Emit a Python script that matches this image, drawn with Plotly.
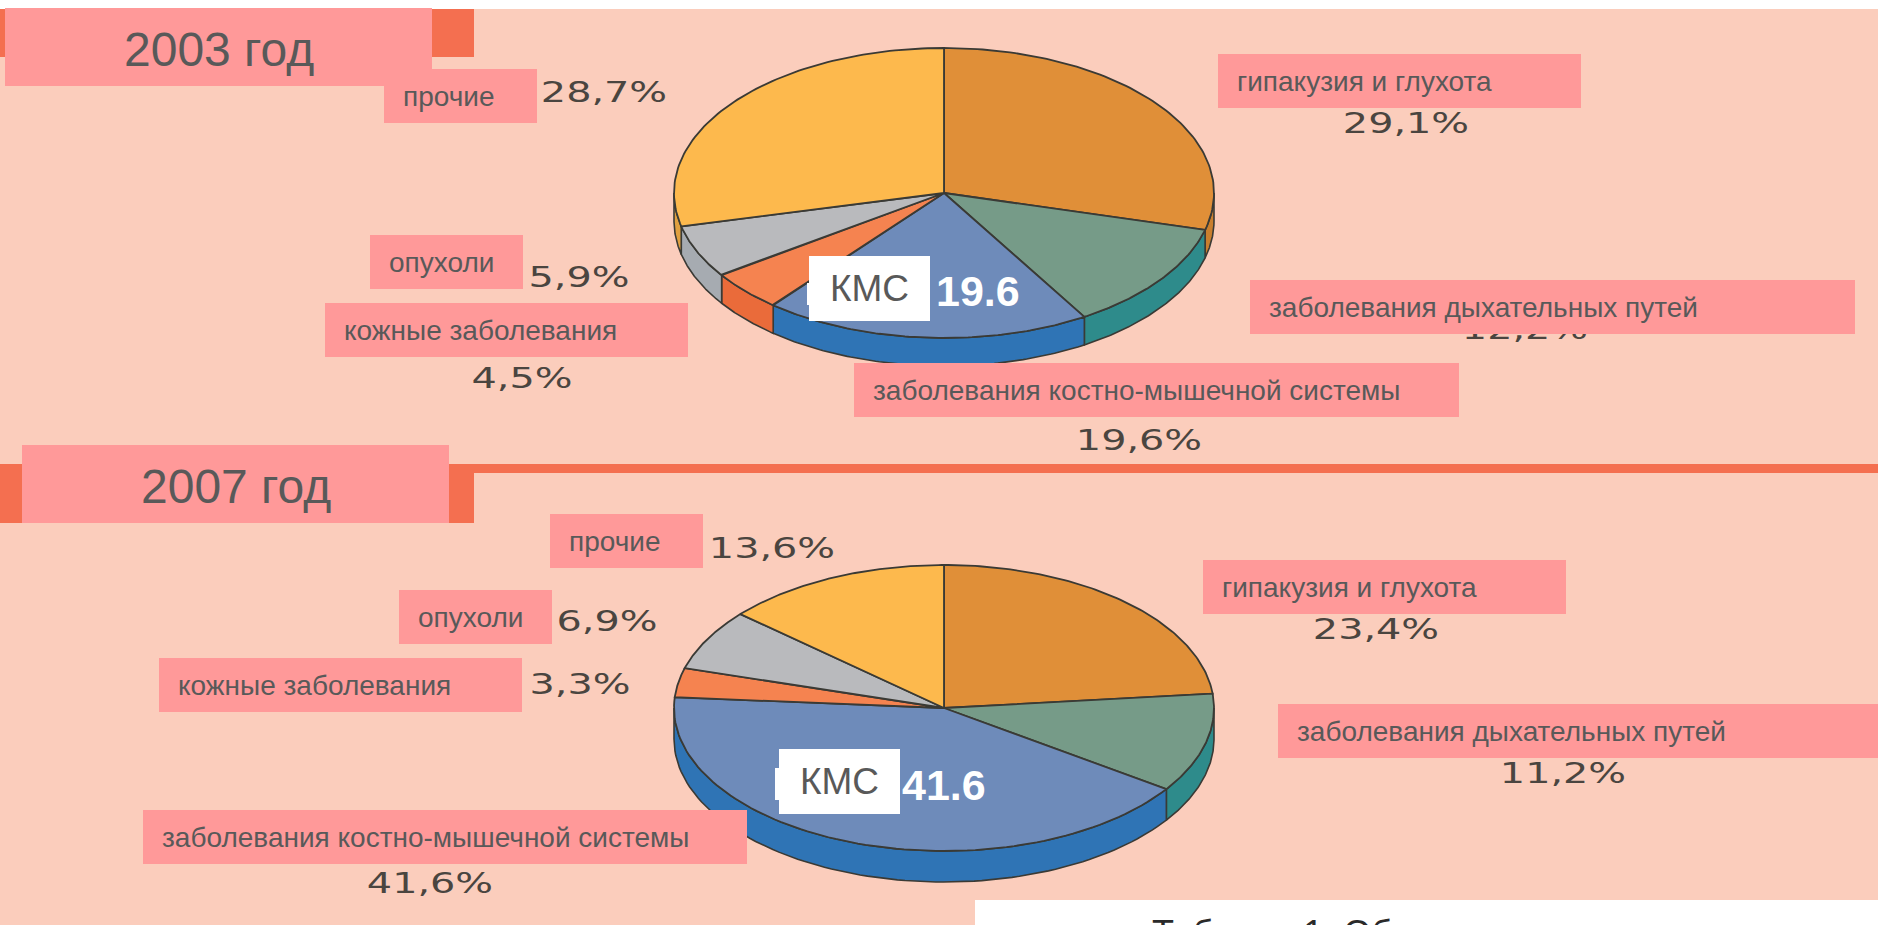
import numpy as np
import plotly.graph_objects as go

W, H = 1878, 925

# ---- data ----
categories = ["гипакузия и глухота", "заболевания дыхательных путей",
              "заболевания костно-мышечной системы", "кожные заболевания",
              "опухоли", "прочие"]
values_2003 = [29.1, 12.2, 19.6, 4.5, 5.9, 28.7]
values_2007 = [23.4, 11.2, 41.6, 3.3, 6.9, 13.6]
years = ["2003 год", "2007 год"]
center_label = "КМС"
table_caption = "Таблица 1. Об"

# ---- styles ----
top_colors = ["#E08F38", "#769B88", "#6E8BBA", "#F58350", "#B9BABD", "#FDB94D"]
side_colors = ["#C97F2E", "#2E8B8B", "#2F74B5", "#EA6B3A", "#A6ABB1", "#E0A040"]
EDGE = "#3A3A35"
BG = "#FBCDBC"
BAND = "#F46F50"
PINK = "#FF9999"
TXT = "#595959"
PCT = "#4A4540"
FONT = "Liberation Sans"

pies = [
    dict(values=values_2003, cx=944, cy=193, rx=270, ry=145, depth=28,
         big=(934, 291), year=0,
         pct=[(1406, 126), (1525, 332), (1139, 443), (522, 381), (579, 280), (604, 95)],
         boxes=[(1218, 54, 1581, 108), (1250, 280, 1855, 334), (854, 363, 1459, 417),
                (325, 303, 688, 357), (370, 235, 523, 289), (384, 69, 537, 123)],
         yearbox=(5, 8, 432, 86), kms=(809, 256, 930, 321), sliver=(807, 283, 809, 305)),
    dict(values=values_2007, cx=944, cy=708, rx=270, ry=143, depth=31,
         big=(900, 785), year=1,
         pct=[(1376, 632), (1563, 776), (430, 886), (580, 687), (607, 624), (772, 551)],
         boxes=[(1203, 560, 1566, 614), (1278, 704, 1883, 758), (143, 810, 747, 864),
                (159, 658, 522, 712), (399, 590, 552, 644), (550, 514, 703, 568)],
         yearbox=(22, 445, 449, 523), kms=(779, 749, 900, 814), sliver=(775, 768, 779, 800)),
]

fig = go.Figure()


def arc(t0, t1, n=90):
    return np.radians(np.linspace(t0, t1, n))


# Slices: angles run clockwise from 12 o'clock, squashed to an ellipse
for p in pies:
    edges = np.concatenate([[0], np.cumsum(p["values"])]) / sum(p["values"]) * 360
    # side walls first
    for i in range(len(p["values"])):
        a, b = max(edges[i], 90), min(edges[i + 1], 270)
        if b <= a:
            continue
        t = arc(a, b)
        x = p["cx"] + p["rx"] * np.sin(t)
        y = p["cy"] - p["ry"] * np.cos(t)
        fig.add_trace(go.Scatter(
            x=np.concatenate([x, x[::-1], x[:1]]),
            y=np.concatenate([y, y[::-1] + p["depth"], y[:1]]),
            mode="lines", fill="toself", fillcolor=side_colors[i],
            line=dict(color=EDGE, width=1.6), hoverinfo="skip", showlegend=False))
    # top faces
    for i in range(len(p["values"])):
        t = arc(edges[i], edges[i + 1])
        x = p["cx"] + p["rx"] * np.sin(t)
        y = p["cy"] - p["ry"] * np.cos(t)
        fig.add_trace(go.Scatter(
            x=np.concatenate([[p["cx"]], x, [p["cx"]]]),
            y=np.concatenate([[p["cy"]], y, [p["cy"]]]),
            mode="lines", fill="toself", fillcolor=top_colors[i],
            line=dict(color=EDGE, width=1.8), name=categories[i],
            hoverinfo="name", showlegend=False))
    # percentage labels sit below the pink boxes, which may hide them
    fig.add_trace(go.Scatter(
        x=[c[0] for c in p["pct"]], y=[c[1] for c in p["pct"]], mode="text",
        text=[f"{v:.1f}".replace(".", ",") + "%" for v in p["values"]],
        textfont=dict(family="DejaVu Sans", size=28, color=PCT),
        textposition="middle center", hoverinfo="skip", showlegend=False))

shapes = []


def rect(box, color, layer="above"):
    shapes.append(dict(type="rect", xref="x", yref="y", x0=box[0], y0=box[1],
                       x1=box[2], y1=box[3], fillcolor=color,
                       line=dict(width=0), layer=layer))


# background, bands
rect((0, 9, W, H), BG, "below")
rect((0, 9, 474, 57), BAND, "below")
rect((0, 464, 474, 523), BAND, "below")
rect((474, 464, W, 473), BAND, "below")

annotations = []


def text(x, y, s, size, color=TXT, anchor="left", bold=False):
    annotations.append(dict(x=x, y=y, xref="x", yref="y", text=f"<b>{s}</b>" if bold else s,
                            showarrow=False, xanchor=anchor, yanchor="middle",
                            font=dict(family=FONT, size=size, color=color)))


for p in pies:
    bx = p["yearbox"]
    rect(bx, PINK)
    text((bx[0] + bx[2]) / 2, (bx[1] + bx[3]) / 2 + 2, years[p["year"]], 48, anchor="center")
    for cat, b in zip(categories, p["boxes"]):
        rect(b, PINK)
        text(b[0] + 17, (b[1] + b[3]) / 2, cat, 28)
    text(p["big"][0], p["big"][1], f"{p['values'][2]:.1f}", 43, color="white", anchor="left", bold=True)
    rect(p["sliver"], "white")
    k = p["kms"]
    rect(k, "white")
    text((k[0] + k[2]) / 2, (k[1] + k[3]) / 2, center_label, 37, anchor="center")

rect((975, 900, W, H), "white")
# caption runs off the page bottom, so it hangs from the paper edge
annotations.append(dict(x=1150, y=0, xref="x", yref="paper", text=table_caption,
                        showarrow=False, xanchor="left", yanchor="top", yshift=14,
                        font=dict(family=FONT, size=36, color="#2A2A2A")))

fig.update_layout(
    width=W, height=H, margin=dict(l=0, r=0, t=0, b=0),
    paper_bgcolor="white", plot_bgcolor="white", showlegend=False,
    xaxis=dict(range=[0, W], visible=False, fixedrange=True),
    yaxis=dict(range=[H, 0], visible=False, fixedrange=True),
    shapes=shapes, annotations=annotations,
)

post = """
document.body.style.margin='0';document.body.style.overflow='hidden';
document.querySelectorAll('.textpoint text').forEach(function(t){
  var b=t.getBBox(), c=b.x+b.width/2;
  t.setAttribute('transform','translate('+c+',0) scale(1.42,1) translate('+(-c)+',0) '+(t.getAttribute('transform')||''));
});
"""
fig.write_html("out.html", config=dict(displayModeBar=False), post_script=post)
